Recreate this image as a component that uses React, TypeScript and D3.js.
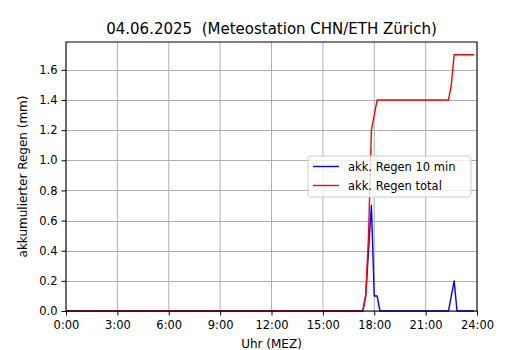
import React, { useEffect, useRef } from 'react';
import * as d3 from 'd3';

// 10-minute readings, 00:00 .. 23:50 (one row = 2 hours)
const rain10min: number[] = [
  0, 0, 0, 0, 0, 0, 0, 0, 0, 0, 0, 0,
  0, 0, 0, 0, 0, 0, 0, 0, 0, 0, 0, 0,
  0, 0, 0, 0, 0, 0, 0, 0, 0, 0, 0, 0,
  0, 0, 0, 0, 0, 0, 0, 0, 0, 0, 0, 0,
  0, 0, 0, 0, 0, 0, 0, 0, 0, 0, 0, 0,
  0, 0, 0, 0, 0, 0, 0, 0, 0, 0, 0, 0,
  0, 0, 0, 0, 0, 0, 0, 0, 0, 0, 0, 0,
  0, 0, 0, 0, 0, 0, 0, 0, 0, 0, 0, 0,
  0, 0, 0, 0, 0, 0, 0, 0, 0, 0.1, 0.4, 0.7,
  0.1, 0.1, 0, 0, 0, 0, 0, 0, 0, 0, 0, 0,
  0, 0, 0, 0, 0, 0, 0, 0, 0, 0, 0, 0,
  0, 0, 0, 0.1, 0.2, 0, 0, 0, 0, 0, 0, 0,
];

const rainTotal: number[] = [
  0, 0, 0, 0, 0, 0, 0, 0, 0, 0, 0, 0,
  0, 0, 0, 0, 0, 0, 0, 0, 0, 0, 0, 0,
  0, 0, 0, 0, 0, 0, 0, 0, 0, 0, 0, 0,
  0, 0, 0, 0, 0, 0, 0, 0, 0, 0, 0, 0,
  0, 0, 0, 0, 0, 0, 0, 0, 0, 0, 0, 0,
  0, 0, 0, 0, 0, 0, 0, 0, 0, 0, 0, 0,
  0, 0, 0, 0, 0, 0, 0, 0, 0, 0, 0, 0,
  0, 0, 0, 0, 0, 0, 0, 0, 0, 0, 0, 0,
  0, 0, 0, 0, 0, 0, 0, 0, 0, 0.1, 0.5, 1.2,
  1.3, 1.4, 1.4, 1.4, 1.4, 1.4, 1.4, 1.4, 1.4, 1.4, 1.4, 1.4,
  1.4, 1.4, 1.4, 1.4, 1.4, 1.4, 1.4, 1.4, 1.4, 1.4, 1.4, 1.4,
  1.4, 1.4, 1.4, 1.5, 1.7, 1.7, 1.7, 1.7, 1.7, 1.7, 1.7, 1.7,
];

const xTicks = [0, 3, 6, 9, 12, 15, 18, 21, 24];
const xTickLabels = ['0:00', '3:00', '6:00', '9:00', '12:00', '15:00', '18:00', '21:00', '24:00'];
const yTicks = [0, 0.2, 0.4, 0.6, 0.8, 1.0, 1.2, 1.4, 1.6];

const seriesNames = ['akk. Regen 10 min', 'akk. Regen total'];
const seriesColors = ['#0000ff', '#ff0000'];

const W = 530;
const H = 350;
const margin = { top: 42, right: 53, bottom: 39, left: 66 };
const font = 'DejaVu Sans, sans-serif';

const App = () => {
  const svgRef = useRef<SVGSVGElement>(null);

  useEffect(() => {
    if (!svgRef.current) return;
    const svg = d3.select(svgRef.current);
    svg.selectAll('*').remove();

    const x = d3.scaleLinear().domain([0, 24]).range([margin.left, W - margin.right]);
    const y = d3.scaleLinear().domain([0, 1.785]).range([H - margin.bottom, margin.top]);

    const hourOf = (i: number) => i / 6;

    svg.append('rect').attr('width', W).attr('height', H).attr('fill', '#fff');

    // grid
    const grid = svg.append('g').attr('stroke', '#b0b0b0').attr('stroke-width', 1);
    xTicks.forEach(t => {
      grid.append('line').attr('x1', x(t)).attr('x2', x(t))
        .attr('y1', y(0)).attr('y2', margin.top);
    });
    yTicks.forEach(t => {
      grid.append('line').attr('x1', margin.left).attr('x2', W - margin.right)
        .attr('y1', Math.round(y(t)) + 0.5).attr('y2', Math.round(y(t)) + 0.5);
    });

    // lines
    const line = d3.line<number>()
      .x((_, i) => x(hourOf(i)))
      .y(d => y(d));

    [rain10min, rainTotal].forEach((series, k) => {
      svg.append('path')
        .datum(series)
        .attr('fill', 'none')
        .attr('stroke', seriesColors[k])
        .attr('stroke-width', 1.4)
        .attr('stroke-linejoin', 'round')
        .attr('d', line);
    });

    // spines
    svg.append('rect')
      .attr('x', margin.left).attr('y', margin.top)
      .attr('width', W - margin.right - margin.left)
      .attr('height', H - margin.bottom - margin.top)
      .attr('fill', 'none').attr('stroke', '#000').attr('stroke-width', 1);

    // axes
    const xAxis = d3.axisBottom(x)
      .tickValues(xTicks)
      .tickSize(4.5)
      .tickPadding(5)
      .tickFormat((_, i) => xTickLabels[i]);
    const gx = svg.append('g').attr('transform', `translate(0,${y(0)})`).call(xAxis);
    gx.select('.domain').remove();
    gx.selectAll('text').attr('font-family', font).attr('font-size', 11.5).attr('fill', '#000');

    const yAxis = d3.axisLeft(y)
      .tickValues(yTicks)
      .tickSize(4.5)
      .tickPadding(4)
      .tickFormat(d3.format('.1f'));
    const gy = svg.append('g').attr('transform', `translate(${margin.left},0)`).call(yAxis);
    gy.select('.domain').remove();
    gy.selectAll('text').attr('font-family', font).attr('font-size', 11.5).attr('fill', '#000');

    // labels
    svg.append('text')
      .attr('x', (margin.left + W - margin.right) / 2).attr('y', 34)
      .attr('text-anchor', 'middle').attr('font-family', font).attr('font-size', 15)
      .style('white-space', 'pre')
      .text('04.06.2025  (Meteostation CHN/ETH Zürich)');

    svg.append('text')
      .attr('x', (margin.left + W - margin.right) / 2).attr('y', 348)
      .attr('text-anchor', 'middle').attr('font-family', font).attr('font-size', 12)
      .text('Uhr (MEZ)');

    svg.append('text')
      .attr('transform', `translate(27,${(margin.top + H - margin.bottom) / 2}) rotate(-90)`)
      .attr('text-anchor', 'middle').attr('font-family', font).attr('font-size', 12)
      .text('akkumulierter Regen (mm)');

    // legend
    const lg = svg.append('g').attr('transform', 'translate(308,156)');
    lg.append('rect')
      .attr('width', 163).attr('height', 41).attr('rx', 3)
      .attr('fill', '#fff').attr('fill-opacity', 0.8)
      .attr('stroke', '#cccccc').attr('stroke-width', 1);
    seriesNames.forEach((name, k) => {
      const cy = 10.5 + k * 19;
      lg.append('line').attr('x1', 5).attr('x2', 31).attr('y1', cy).attr('y2', cy)
        .attr('stroke', seriesColors[k]).attr('stroke-width', 1.4);
      lg.append('text').attr('x', 40).attr('y', cy + 4)
        .attr('font-family', font).attr('font-size', 11.5).text(name);
    });
  }, []);

  return (
    <svg
      ref={svgRef}
      width={W}
      height={H}
      style={{ position: 'absolute', left: 0, top: 0, display: 'block' }}
    />
  );
};

export default App;
